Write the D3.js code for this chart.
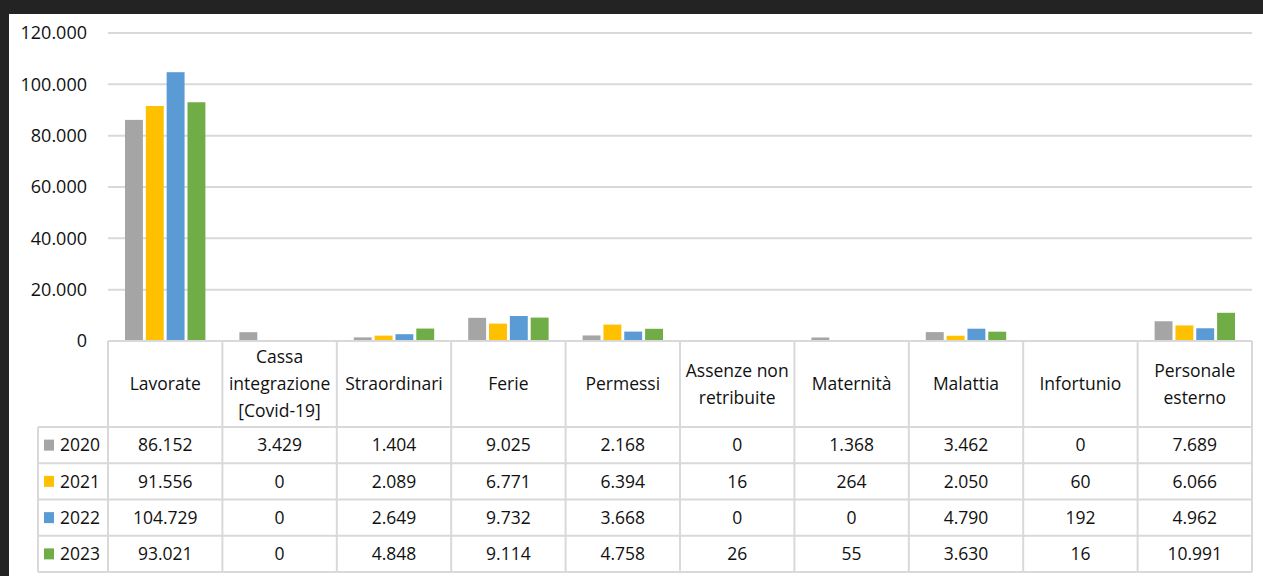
<!DOCTYPE html>
<html>
<head>
<meta charset="utf-8">
<script src="https://cdn.jsdelivr.net/npm/d3@7"></script>
<style>
  html, body { margin: 0; padding: 0; background: #232323; }
  svg { display: block; }
  text { font-family: "Open Sans", sans-serif; fill: #111; }
</style>
</head>
<body>
<div id="chart"></div>
<script>
const categories = [
  ["Lavorate"],
  ["Cassa", "integrazione", "[Covid-19]"],
  ["Straordinari"],
  ["Ferie"],
  ["Permessi"],
  ["Assenze non", "retribuite"],
  ["Maternità"],
  ["Malattia"],
  ["Infortunio"],
  ["Personale", "esterno"]
]
const years = ["2020", "2021", "2022", "2023"]
const colors = ["#a5a5a5", "#ffc000", "#5b9bd5", "#70ad47"]

const v2020 = [86152, 3429, 1404, 9025, 2168, 0, 1368, 3462, 0, 7689]
const v2021 = [91556, 0, 2089, 6771, 6394, 16, 264, 2050, 60, 6066]
const v2022 = [104729, 0, 2649, 9732, 3668, 0, 0, 4790, 192, 4962]
const v2023 = [93021, 0, 4848, 9114, 4758, 26, 55, 3630, 16, 10991]
const series = [v2020, v2021, v2022, v2023]

const yTicks = [0, 20000, 40000, 60000, 80000, 100000, 120000]

const W = 1263, H = 576
const PLOT = { LEFT: 108, RIGHT: 1252, TOP: 33, BOTTOM: 341 }
const LEG_LEFT = 38
const HEADER_BOTTOM = 427
const ROW_H = 36.25
const FS = 17.5

const fmt = d3.formatLocale({ decimal: ",", thousands: ".", grouping: [3], currency: ["", "€"] }).format(",d")

const svg = d3.select("#chart").append("svg")
  .attr("width", W)
  .attr("height", H)

// white panel
svg.append("rect")
  .attr("x", 9).attr("y", 14)
  .attr("width", W - 9).attr("height", H - 14)
  .attr("fill", "#fff")

// scales
const x = d3.scaleBand()
  .domain(d3.range(categories.length))
  .range([PLOT.LEFT, PLOT.RIGHT])

const xIn = d3.scaleBand()
  .domain(years)
  .range([17, x.bandwidth() - 17])
  .paddingInner(0.14)

const y = d3.scaleLinear()
  .domain([0, 120000])
  .range([PLOT.BOTTOM, PLOT.TOP])

// gridlines
svg.append("g")
  .selectAll("line")
  .data(yTicks.filter(d => d > 0))
  .join("line")
    .attr("x1", PLOT.LEFT)
    .attr("x2", PLOT.RIGHT)
    .attr("y1", d => y(d))
    .attr("y2", d => y(d))
    .attr("stroke", "#d9d9d9")
    .attr("stroke-width", 2)

// y labels
svg.append("g")
  .selectAll("text")
  .data(yTicks)
  .join("text")
    .attr("x", 87)
    .attr("y", d => y(d))
    .attr("dy", "0.36em")
    .attr("text-anchor", "end")
    .attr("font-size", 18)
    .text(d => fmt(d))

// bars
const groups = svg.append("g")
  .selectAll("g")
  .data(series)
  .join("g")
    .attr("fill", (d, i) => colors[i])

groups.selectAll("rect")
  .data((d, i) => d.map((v, j) => ({ v: v, j: j, yr: years[i] })))
  .join("rect")
    .attr("x", d => x(d.j) + xIn(d.yr))
    .attr("width", xIn.bandwidth())
    .attr("y", d => y(d.v))
    .attr("height", d => y(0) - y(d.v))

// table
const table = svg.append("g")
const lineCol = "#d9d9d9"

// header cells
categories.forEach((lines, j) => {
  const cx = x(j) + x.bandwidth() / 2
  const cy = (PLOT.BOTTOM + HEADER_BOTTOM) / 2
  const lh = 27
  lines.forEach((t, k) => {
    table.append("text")
      .attr("x", cx)
      .attr("y", cy + (k - (lines.length - 1) / 2) * lh)
      .attr("dy", "0.36em")
      .attr("text-anchor", "middle")
      .attr("font-size", FS)
      .text(t)
  })
})

// data rows
series.forEach((vals, i) => {
  const top = HEADER_BOTTOM + i * ROW_H
  const cy = top + ROW_H / 2
  table.append("rect")
    .attr("x", 44).attr("y", cy - 5.5)
    .attr("width", 10).attr("height", 11)
    .attr("fill", colors[i])
  table.append("text")
    .attr("x", 60).attr("y", cy)
    .attr("dy", "0.36em")
    .attr("font-size", FS)
    .text(years[i])
  vals.forEach((v, j) => {
    table.append("text")
      .attr("x", x(j) + x.bandwidth() / 2)
      .attr("y", cy)
      .attr("dy", "0.36em")
      .attr("text-anchor", "middle")
      .attr("font-size", FS)
      .text(fmt(v))
  })
})

// table grid lines
const tableBottom = HEADER_BOTTOM + series.length * ROW_H
const hLines = [
  { x1: PLOT.LEFT, y: PLOT.BOTTOM },
  ...d3.range(series.length + 1).map(i => ({ x1: LEG_LEFT, y: HEADER_BOTTOM + i * ROW_H }))
]
table.selectAll("line.h")
  .data(hLines)
  .join("line")
    .attr("class", "h")
    .attr("x1", d => d.x1).attr("x2", PLOT.RIGHT)
    .attr("y1", d => d.y).attr("y2", d => d.y)
    .attr("stroke", lineCol).attr("stroke-width", 2)

const vLines = [{ x: LEG_LEFT, y1: HEADER_BOTTOM }]
  .concat(d3.range(categories.length + 1).map(j => ({ x: PLOT.LEFT + j * x.bandwidth(), y1: PLOT.BOTTOM })))
table.selectAll("line.v")
  .data(vLines)
  .join("line")
    .attr("class", "v")
    .attr("x1", d => d.x).attr("x2", d => d.x)
    .attr("y1", d => d.y1).attr("y2", tableBottom)
    .attr("stroke", lineCol).attr("stroke-width", 2)
</script>
</body>
</html>
